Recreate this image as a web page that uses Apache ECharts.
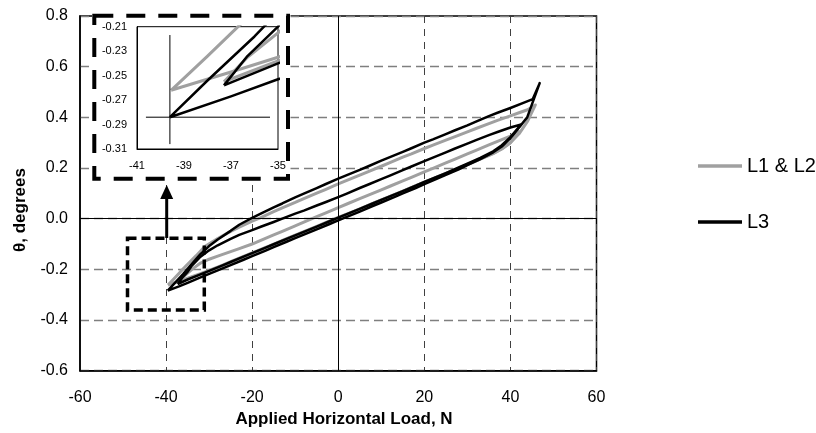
<!DOCTYPE html>
<html><head><meta charset="utf-8">
<script src="https://cdn.jsdelivr.net/npm/echarts@6/dist/echarts.min.js"></script>
<style>html,body{margin:0;padding:0;background:#fff}#c{width:816px;height:433px}</style>
</head><body><div id="c"></div>
<script>
// ---- axis settings ----
const xMin = -60, xMax = 60, xStep = 20;
const yMin = -0.6, yMax = 0.8, yStep = 0.2;
const insetXMin = -41, insetXMax = -35, insetXStep = 2;
const insetYMin = -0.31, insetYMax = -0.21, insetYStep = 0.02;
const legendNames = ['L1 & L2', 'L3'];
const xTitle = 'Applied Horizontal Load, N';
const yTitle = 'θ, degrees';

// ---- L3 (black) loop A: outer loop ----
const l3A_lowX = [-39.6,-37,-35,-32,-30,-27,-25,-22,-20,-17,-15,-12,-10,-7,-5,-2,0,3,5,8,10,13,15,18,20,23,25,28,30,33,36,38,40,42,43.9,45.4,46.8];
const l3A_lowY = [-0.284,-0.267,-0.253,-0.232,-0.218,-0.197,-0.183,-0.162,-0.148,-0.127,-0.112,-0.091,-0.077,-0.056,-0.042,-0.021,-0.007,0.014,0.028,0.050,0.064,0.085,0.100,0.121,0.136,0.158,0.173,0.195,0.211,0.235,0.262,0.285,0.318,0.360,0.400,0.470,0.535];
const l3A_upX = [46.8,45.2,43,40,37,35,32,30,27,25,22,20,17,15,12,10,7,5,2,0,-3,-5,-8,-10,-13,-15,-18,-20,-23,-25,-28,-30,-32,-34,-36,-38,-39.6];
const l3A_upY = [0.535,0.472,0.457,0.437,0.418,0.405,0.383,0.368,0.348,0.334,0.313,0.300,0.278,0.264,0.243,0.229,0.207,0.193,0.172,0.158,0.136,0.121,0.099,0.084,0.060,0.045,0.020,0.003,-0.024,-0.048,-0.082,-0.108,-0.140,-0.178,-0.218,-0.254,-0.284];
// ---- L3 (black) loop B: inner loop ----
const l3B_lowX = [-37.3,-35,-32,-30,-27,-25,-22,-20,-17,-15,-12,-10,-7,-5,-2,0,3,5,8,10,13,15,18,20,23,25,28,30,33,36,38,40,42.5];
const l3B_lowY = [-0.258,-0.240,-0.220,-0.206,-0.185,-0.171,-0.150,-0.136,-0.115,-0.101,-0.080,-0.066,-0.045,-0.031,-0.010,0.004,0.025,0.039,0.060,0.074,0.095,0.109,0.130,0.145,0.166,0.180,0.202,0.217,0.240,0.266,0.290,0.322,0.372];
const l3B_upX = [42.5,40,37,35,32,30,27,25,22,20,17,15,12,10,7,5,2,0,-3,-5,-8,-10,-13,-15,-18,-20,-23,-25,-28,-30,-32,-34,-35,-36.3,-37.3];
const l3B_upY = [0.372,0.360,0.342,0.330,0.310,0.296,0.276,0.262,0.241,0.227,0.206,0.192,0.170,0.156,0.135,0.121,0.099,0.085,0.065,0.052,0.032,0.020,0.000,-0.013,-0.032,-0.045,-0.064,-0.080,-0.105,-0.125,-0.150,-0.185,-0.210,-0.234,-0.258];
// ---- L1 & L2 (gray) loop C: outer loop ----
const l12C_lowX = [-39.55,-37,-35,-32,-30,-27,-25,-22,-20,-17,-15,-12,-10,-7,-5,-2,0,3,5,8,10,13,15,18,20,23,25,28,30,33,36,38,40,42,44,45.8];
const l12C_lowY = [-0.262,-0.247,-0.235,-0.217,-0.204,-0.184,-0.170,-0.149,-0.135,-0.114,-0.100,-0.079,-0.065,-0.044,-0.030,-0.009,0.005,0.025,0.039,0.060,0.074,0.095,0.109,0.130,0.144,0.165,0.179,0.200,0.214,0.236,0.258,0.276,0.300,0.335,0.385,0.449];
const l12C_upX = [45.8,44,42,40,37,35,32,30,27,25,22,20,17,15,12,10,7,5,2,0,-3,-5,-8,-10,-13,-15,-18,-20,-23,-25,-28,-31,-33,-35,-36.7,-38,-39.55];
const l12C_upY = [0.449,0.430,0.418,0.406,0.388,0.375,0.356,0.343,0.323,0.310,0.290,0.277,0.256,0.243,0.221,0.207,0.186,0.172,0.151,0.137,0.115,0.101,0.079,0.064,0.043,0.028,0.004,-0.010,-0.033,-0.050,-0.078,-0.110,-0.146,-0.180,-0.210,-0.234,-0.262];
// ---- L1 & L2 (gray) loop D: inner loop ----
const l12D_lowX = [-37.3,-35,-32,-30,-27,-25,-22,-20,-17,-15,-12,-10,-7,-5,-2,0,3,5,8,10,13,15,18,20,23,25,28,30,33,36,38,40,41.9];
const l12D_lowY = [-0.255,-0.238,-0.219,-0.206,-0.186,-0.172,-0.151,-0.137,-0.116,-0.102,-0.081,-0.067,-0.046,-0.032,-0.011,0.003,0.024,0.038,0.059,0.073,0.094,0.108,0.129,0.143,0.164,0.178,0.199,0.213,0.235,0.257,0.275,0.300,0.344];
const l12D_upX = [41.9,40,37,35,32,30,27,25,22,20,17,15,12,10,7,5,2,0,-3,-5,-8,-10,-13,-15,-18,-20,-23,-25,-28,-30,-32,-34,-35,-36.3,-37.3];
const l12D_upY = [0.344,0.326,0.305,0.291,0.270,0.256,0.234,0.220,0.199,0.185,0.163,0.149,0.128,0.114,0.093,0.079,0.058,0.044,0.022,0.008,-0.014,-0.028,-0.050,-0.064,-0.086,-0.100,-0.118,-0.130,-0.148,-0.160,-0.175,-0.200,-0.215,-0.235,-0.255];
// ---- inset reference cross ----
const crossVX = [-39.6,-39.6], crossVY = [-0.2168,-0.306];
const crossHX = [-40.62,-35.34], crossHY = [-0.284,-0.284];

const zip = (xs, ys) => xs.map((x, i) => [x, ys[i]]);
const loop = (lx, ly, ux, uy) => zip(lx, ly).concat(zip(ux, uy));

const GRAY = '#a0a0a0', BLACK = '#000';
const FONT = 'Liberation Sans, Arial, sans-serif';

const loops = [
  {name: legendNames[0], data: loop(l12C_lowX, l12C_lowY, l12C_upX, l12C_upY), color: GRAY, w: 3},
  {name: legendNames[0], data: loop(l12D_lowX, l12D_lowY, l12D_upX, l12D_upY), color: GRAY, w: 3},
  {name: legendNames[1], data: loop(l3A_lowX, l3A_lowY, l3A_upX, l3A_upY), color: BLACK, w: 2.5},
  {name: legendNames[1], data: loop(l3B_lowX, l3B_lowY, l3B_upX, l3B_upY), color: BLACK, w: 2.5}
];

const series = [];
loops.forEach((l, i) => {
  const s = {type: 'line', name: l.name, data: l.data, showSymbol: false, symbol: 'none',
    color: l.color, lineStyle: {color: l.color, width: l.w, join: 'round'}, xAxisIndex: 0, yAxisIndex: 0,
    z: 2, animation: false, silent: true};
  if (i === 0) {
    s.markLine = {silent: true, symbol: ['none', 'none'], label: {show: false}, animation: false,
      lineStyle: {color: '#000', width: 1, type: 'solid'}, data: [{xAxis: 0}, {yAxis: 0}]};
  }
  series.push(s);
});
loops.forEach(l => {
  series.push({type: 'line', name: l.name, data: l.data, showSymbol: false, symbol: 'none',
    color: l.color, lineStyle: {color: l.color, width: l.w, join: 'round'}, xAxisIndex: 1, yAxisIndex: 1,
    z: 6, animation: false, silent: true, clip: true});
});
series.push({type: 'line', name: 'crossV', data: zip(crossVX, crossVY), showSymbol: false, symbol: 'none',
  lineStyle: {color: '#000', width: 1}, xAxisIndex: 1, yAxisIndex: 1, z: 6, animation: false, silent: true});
series.push({type: 'line', name: 'crossH', data: zip(crossHX, crossHY), showSymbol: false, symbol: 'none',
  lineStyle: {color: '#000', width: 1}, xAxisIndex: 1, yAxisIndex: 1, z: 6, animation: false, silent: true});

const chart = echarts.init(document.getElementById('c'), null, {renderer: 'canvas'});
chart.setOption({
  animation: false,
  backgroundColor: '#fff',
  textStyle: {fontFamily: FONT},
  grid: [
    {left: 80, top: 16, width: 516.5, height: 354.7, show: true, borderColor: '#000', borderWidth: 1.5, backgroundColor: 'transparent', z: 0},
    {left: 137, top: 26.7, width: 141, height: 122.3, show: true, borderColor: '#000', borderWidth: 1, backgroundColor: '#fff', z: 4}
  ],
  xAxis: [
    {type: 'value', gridIndex: 0, min: xMin, max: xMax, interval: xStep,
      axisLine: {show: true, onZero: false, lineStyle: {color: '#000', width: 1.5}},
      axisTick: {show: false},
      axisLabel: {fontSize: 16, color: '#000', margin: 19, fontFamily: FONT},
      splitLine: {show: true, lineStyle: {color: '#404040', width: 1, type: [7, 6]}}},
    {type: 'value', gridIndex: 1, min: insetXMin, max: insetXMax, interval: insetXStep, z: 5,
      axisLine: {show: true, onZero: false, lineStyle: {color: '#000', width: 1}},
      axisTick: {show: false},
      axisLabel: {fontSize: 11, color: '#000', margin: 11, fontFamily: FONT},
      splitLine: {show: false}}
  ],
  yAxis: [
    {type: 'value', gridIndex: 0, min: yMin, max: yMax, interval: yStep,
      axisLine: {show: true, onZero: false, lineStyle: {color: '#000', width: 1.5}},
      axisTick: {show: false},
      axisLabel: {fontSize: 16, color: '#000', margin: 12, fontFamily: FONT, formatter: v => v.toFixed(1)},
      splitLine: {show: true, lineStyle: {color: '#7f7f7f', width: 1.3, type: [9, 5]}}},
    {type: 'value', gridIndex: 1, min: insetYMin, max: insetYMax, interval: insetYStep, z: 5,
      axisLine: {show: true, onZero: false, lineStyle: {color: '#000', width: 1}},
      axisTick: {show: false},
      axisLabel: {fontSize: 11, color: '#000', margin: 10, fontFamily: FONT, formatter: v => v.toFixed(2)},
      splitLine: {show: false}}
  ],
  legend: {
    data: legendNames, orient: 'vertical', left: 693, top: 151, itemGap: 36,
    itemWidth: 44, itemHeight: 3.5, icon: 'rect', selectedMode: false,
    textStyle: {fontSize: 20, color: '#000', fontFamily: FONT}
  },
  graphic: {elements: [
    {type: 'rect', z: 3, silent: true, shape: {x: 92, y: 14.5, width: 198.5, height: 166.5}, style: {fill: '#fff', stroke: null}},
    {type: 'rect', z: 8, silent: true, shape: {x: 94.3, y: 15.7, width: 193.7, height: 163}, style: {fill: null, stroke: '#000', lineWidth: 4, lineDash: [19, 13]}},
    {type: 'rect', z: 8, silent: true, shape: {x: 127.5, y: 238.3, width: 76.8, height: 71.7}, style: {fill: null, stroke: '#000', lineWidth: 3.5, lineDash: [9, 5]}},
    {type: 'polyline', z: 8, silent: true, shape: {points: [[166.7, 238], [166.7, 196]]}, style: {stroke: '#000', lineWidth: 3}},
    {type: 'polygon', z: 8, silent: true, shape: {points: [[166.7, 185], [160.2, 199], [173.2, 199]]}, style: {fill: '#000'}},
    {type: 'text', z: 8, silent: true, x: 344, y: 419, style: {text: xTitle, fontSize: 17, fontWeight: 'bold', fontFamily: FONT, fill: '#000', align: 'center', verticalAlign: 'middle'}},
    {type: 'text', z: 8, silent: true, x: 20, y: 210, rotation: Math.PI / 2, style: {text: yTitle, fontSize: 17, fontWeight: 'bold', fontFamily: FONT, fill: '#000', align: 'center', verticalAlign: 'middle'}}
  ]},
  series: series
});
</script></body></html>
